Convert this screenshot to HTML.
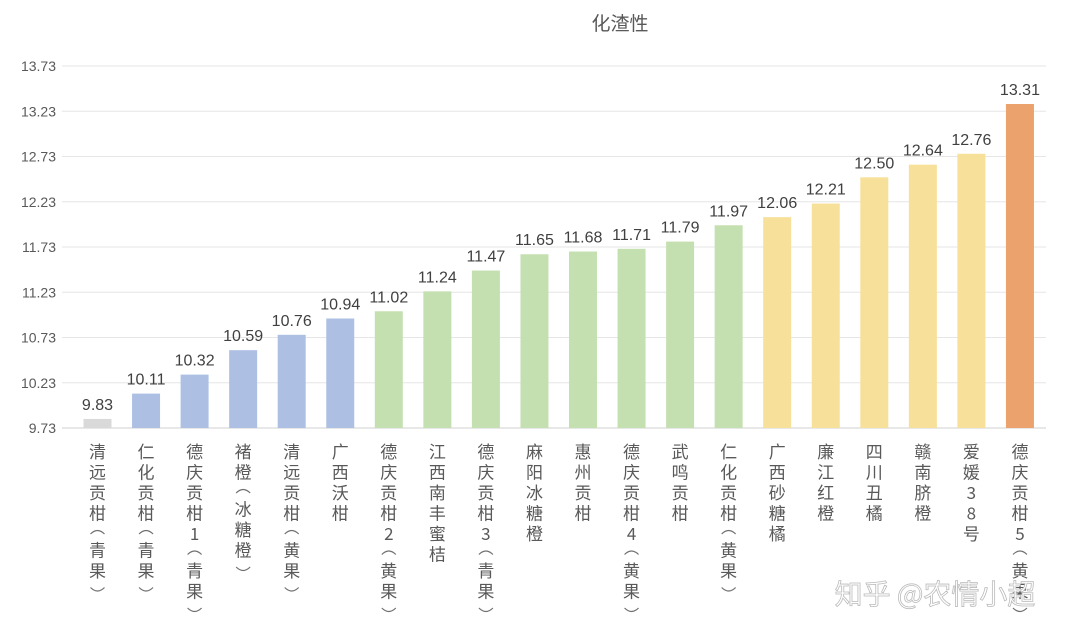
<!DOCTYPE html>
<html><head><meta charset="utf-8"><style>body{margin:0;background:#fff}svg{display:block}</style></head>
<body>
<svg id="s" width="1080" height="640" xmlns="http://www.w3.org/2000/svg" font-family="Liberation Sans, Noto Sans CJK SC, sans-serif">
<text x="620" y="30" font-size="19" fill="#595959" text-anchor="middle" font-family="Noto Sans CJK SC, sans-serif">化渣性</text>
<g id="g"></g>
</svg>
<script>
const g=document.getElementById('g');const NS="http://www.w3.org/2000/svg";
function el(t,a,txt){const e=document.createElementNS(NS,t);for(const k in a)e.setAttribute(k,a[k]);if(txt!=null)e.textContent=txt;g.appendChild(e);return e;}
const Y=v=>428-(v-9.73)*90.5;
for(let i=0;i<=8;i++){const v=9.73+i*0.5,y=Y(v);
el('line',{x1:62,x2:1046,y1:y,y2:y,stroke:i==0?'#d0d0d0':'#e6e6e6','stroke-width':1});
el('text',{x:56,y:y+5,'font-size':14,fill:'#595959','text-anchor':'end'},v.toFixed(2));}
const d=[["清远贡柑（青果）",9.83,'#d9d9d9'],["仁化贡柑（青果）",10.11,'#adc0e3'],["德庆贡柑1（青果）",10.32,'#adc0e3'],["褚橙（冰糖橙）",10.59,'#adc0e3'],["清远贡柑（黄果）",10.76,'#adc0e3'],["广西沃柑",10.94,'#adc0e3'],
["德庆贡柑2（黄果）",11.02,'#c5e0b0'],["江西南丰蜜桔",11.24,'#c5e0b0'],["德庆贡柑3（青果）",11.47,'#c5e0b0'],["麻阳冰糖橙",11.65,'#c5e0b0'],["惠州贡柑",11.68,'#c5e0b0'],["德庆贡柑4（黄果）",11.71,'#c5e0b0'],["武鸣贡柑",11.79,'#c5e0b0'],["仁化贡柑（黄果）",11.97,'#c5e0b0'],
["广西砂糖橘",12.06,'#f7e09a'],["廉江红橙",12.21,'#f7e09a'],["四川丑橘",12.50,'#f7e09a'],["赣南脐橙",12.64,'#f7e09a'],["爱媛38号",12.76,'#f7e09a'],["德庆贡柑5（黄果）",13.31,'#eba26c']];
d.forEach((r,i)=>{const cx=97.5+i*48.55,y=Y(r[1]);
el('rect',{x:cx-14,y:y,width:28,height:428-y,fill:r[2]});
el('text',{x:cx,y:y-9,'font-size':16,fill:'#404040','text-anchor':'middle'},r[1].toFixed(2));
let cy=452;const chars=[...r[0]];
chars.forEach((c,j)=>{
 const p=(c==='（'||c==='）');
 if(j>0){const prevP=(chars[j-1]==='（'||chars[j-1]==='）');cy+=(p||prevP)?18.5:20.5;}
 if(c==='（') el('path',{d:`M${cx-7} ${cy+2} Q${cx} ${cy-5} ${cx+7} ${cy+2}`,fill:'none',stroke:'#707070','stroke-width':1.2});
 else if(c==='）') el('path',{d:`M${cx-7} ${cy-2} Q${cx} ${cy+5} ${cx+7} ${cy-2}`,fill:'none',stroke:'#707070','stroke-width':1.2});
 else el('text',{x:cx,y:cy+6,'font-size':17,fill:'#595959','text-anchor':'middle','font-family':'Noto Sans CJK SC, sans-serif'},c);});
});
el('text',{x:935,y:604,'font-size':28,fill:'#ffffff',stroke:'#bbbbbb','stroke-width':0.8,'text-anchor':'middle','font-family':'Noto Sans CJK SC, sans-serif'},'知乎 @农情小超');
</script>
</body></html>
